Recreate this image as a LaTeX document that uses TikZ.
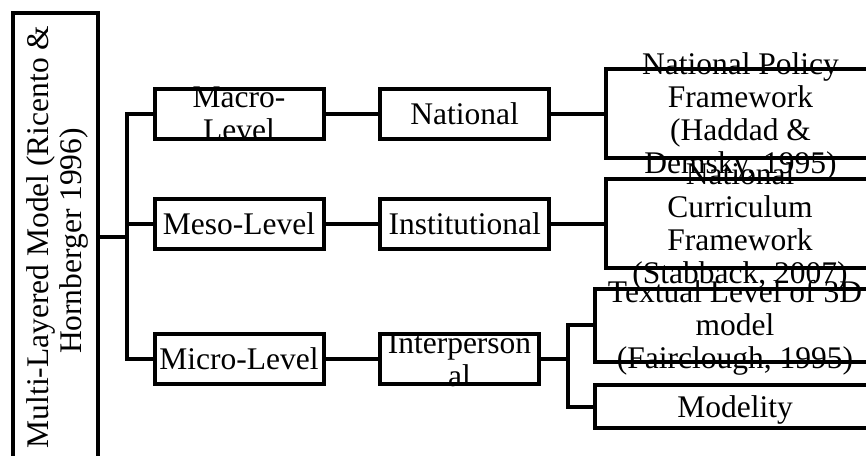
\documentclass[tikz,border=0pt]{standalone}
\usepackage{fontspec}
\setmainfont{Liberation Serif}
\usetikzlibrary{calc}
\tikzset{
	box/.style={draw, line width=4pt, inner sep=0pt},
	txt/.style={align=center, inner sep=0pt, yshift=-4pt, font=\fontsize{31.5}{33}\selectfont},
	link/.style={line width=4pt}
}
\newcommand{\tbox}[6] % name, centre x, centre y, width, height, text
{
	% frame
	\node[box, minimum width=#4, minimum height=#5] (#1) at (#2,#3) {};
	% text, runs over the frame where it is too long
	\node[txt] (#1-t) at (#1) {\strut #6\strut};
}

\begin{document}
\begin{tikzpicture}[x=1pt, y=-1pt]
	% page: 866 x 455, y downwards
	\useasboundingbox (0,0) rectangle (866,455);
	% model box (runs off the page at the bottom)
	\node[box, minimum width=84.5, minimum height=467] (model) at (55.3,246.7) {};
	\node[txt, rotate=90] (model-t) at (58,233) {\strut Multi-Layered Model (Ricento \&\\Hornberger 1996)\hspace*{8pt}\strut};
	% levels
	\tbox{macro}{239}{113.5}{169}{50}{Macro-\\Level};
	\tbox{meso}{239}{223.5}{169}{50}{Meso-Level};
	\tbox{micro}{239}{359}{169}{50}{Micro-Level};
	% contexts
	\tbox{national}{464.7}{113.5}{169}{50}{National};
	\tbox{inst}{464.7}{223.5}{169}{50}{Institutional};
	\tbox{inter}{459.5}{359}{159}{50}{Interperson\\al};
	% sources (run off the page on the right)
	\tbox{policy}{740.5}{113.5}{269}{89}{National Policy\\Framework\\(Haddad \&\\Demsky, 1995)};
	\tbox{curric}{740}{223.5}{269}{89}{National\\Curriculum\\Framework\\(Stabback, 2007)};
	\tbox{textual}{735}{325}{280}{73}{Textual Level of 3D\\model\\(Fairclough, 1995)};
	\tbox{modal}{735}{406.5}{280}{43}{Modelity};
	% tree from the model box
	\coordinate (root) at (127,237);
	\draw[link] (root -| model.east) -- (root);
	\draw[link] (macro.west) -- (root |- macro) -- (root |- micro) -- (micro.west);
	\draw[link] (meso.west) -- (root |- meso);
	% level -> context -> source
	\draw[link] (macro) -- (national);
	\draw[link] (meso) -- (inst);
	\draw[link] (micro) -- (inter);
	\draw[link] (national) -- (policy);
	\draw[link] (inst) -- (curric);
	% fork below interpersonal
	\coordinate (fork) at (568,359);
	\draw[link] (inter) -- (fork);
	\draw[link] (textual.west) -- (fork |- textual) -- (fork |- modal) -- (modal.west);
\end{tikzpicture}
\end{document}
